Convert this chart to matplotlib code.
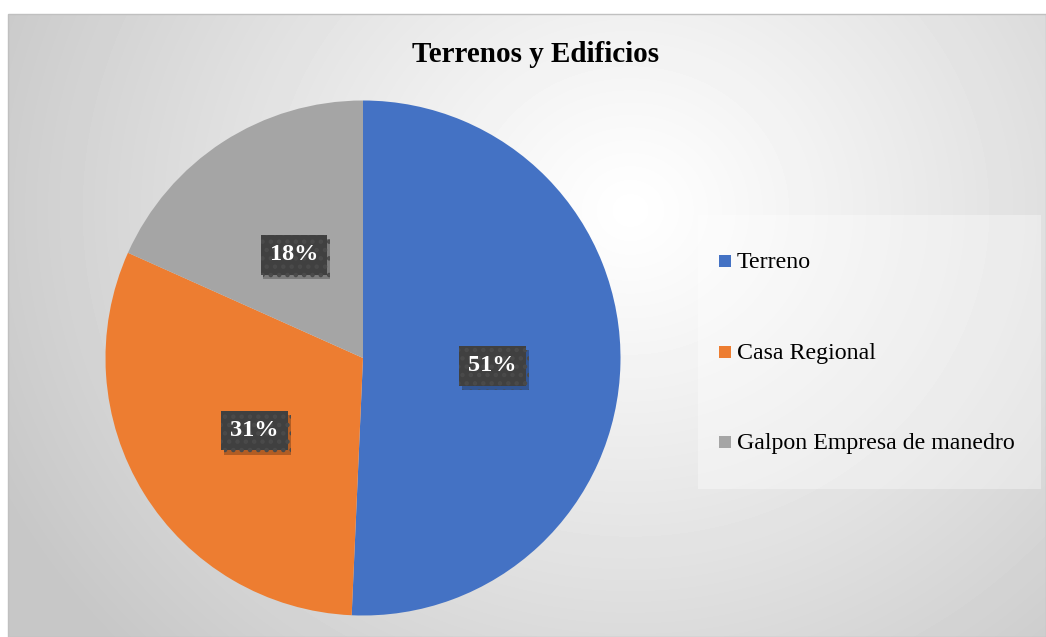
import numpy as np
import matplotlib
matplotlib.use("Agg")
import matplotlib.pyplot as plt
import matplotlib.patheffects as pe
from matplotlib.patches import Rectangle

# data
labels = ["Terreno", "Casa Regional", "Galpon Empresa de manedro"]
shares = [50.7, 31.0, 18.3]
colors = ["#4472C4", "#ED7D31", "#A5A5A5"]
title = "Terrenos y Edificios"

W, H = 1046, 637
plt.rcParams["font.family"] = ["Liberation Serif", "DejaVu Serif"]
plt.rcParams["hatch.linewidth"] = 2.0

fig = plt.figure(figsize=(W / 100, H / 100), dpi=100)
fig.patch.set_facecolor("white")

# chart area with radial grey gradient
ax = fig.add_axes([0, 0, 1, 1])

yy, xx = np.mgrid[14:H, 8:W]
r = np.hypot(xx - 630, (yy - 210) * 1.1)
v = 1 - 0.22 * np.clip(r / 700, 0, 1) ** 1.1
ax.imshow(v, cmap="gray", vmin=0, vmax=1, extent=(8, W, H, 14),
          interpolation="bilinear", zorder=0)
ax.add_patch(Rectangle((8, 14), W - 8, H - 14, fill=False,
                       edgecolor="#c0c0c0", lw=1, zorder=1))

# y axis points down, so counterclockwise in data = clockwise on screen
wedges, texts, autotexts = ax.pie(
    shares, colors=colors, startangle=-90, counterclock=True,
    center=(363, 358), radius=257.5, autopct="%1.0f%%", pctdistance=0.5,
    wedgeprops=dict(linewidth=0),
    textprops=dict(color="white", fontsize=17.5, fontweight="bold"),
    frame=True)
for w in wedges:
    w.set_zorder(2)
ax.set_xlim(0, W)
ax.set_ylim(H, 0)
ax.set_aspect("equal")
ax.axis("off")

for t in autotexts:
    x, y = t.get_position()
    t.set_position((x + 1, y + 5))
    t.set_zorder(5)
    t.set_bbox(dict(boxstyle="square,pad=0.38", facecolor="#404040",
                    edgecolor="#4a4a4a", linewidth=0, hatch=".."))
    t.get_bbox_patch().set_path_effects(
        [pe.SimplePatchShadow(offset=(2, -3), shadow_rgbFace="black", alpha=0.25),
         pe.Normal()])

ax.text(536, 55, title, ha="center", va="center", fontsize=21,
        fontweight="bold", color="black", zorder=5)

# legend box
ax.add_patch(Rectangle((698, 215), 343, 274, facecolor="white", alpha=0.35,
                       edgecolor="none", zorder=3))
leg_y = [261, 352, 442]
for lab, col, y in zip(labels, colors, leg_y):
    ax.add_patch(Rectangle((719, y - 6), 12, 12, facecolor=col,
                           edgecolor="none", zorder=4))
    ax.text(737, y + 1, lab, ha="left", va="center", fontsize=17.2,
            color="black", zorder=4)

fig.savefig("out.png", dpi=100)
